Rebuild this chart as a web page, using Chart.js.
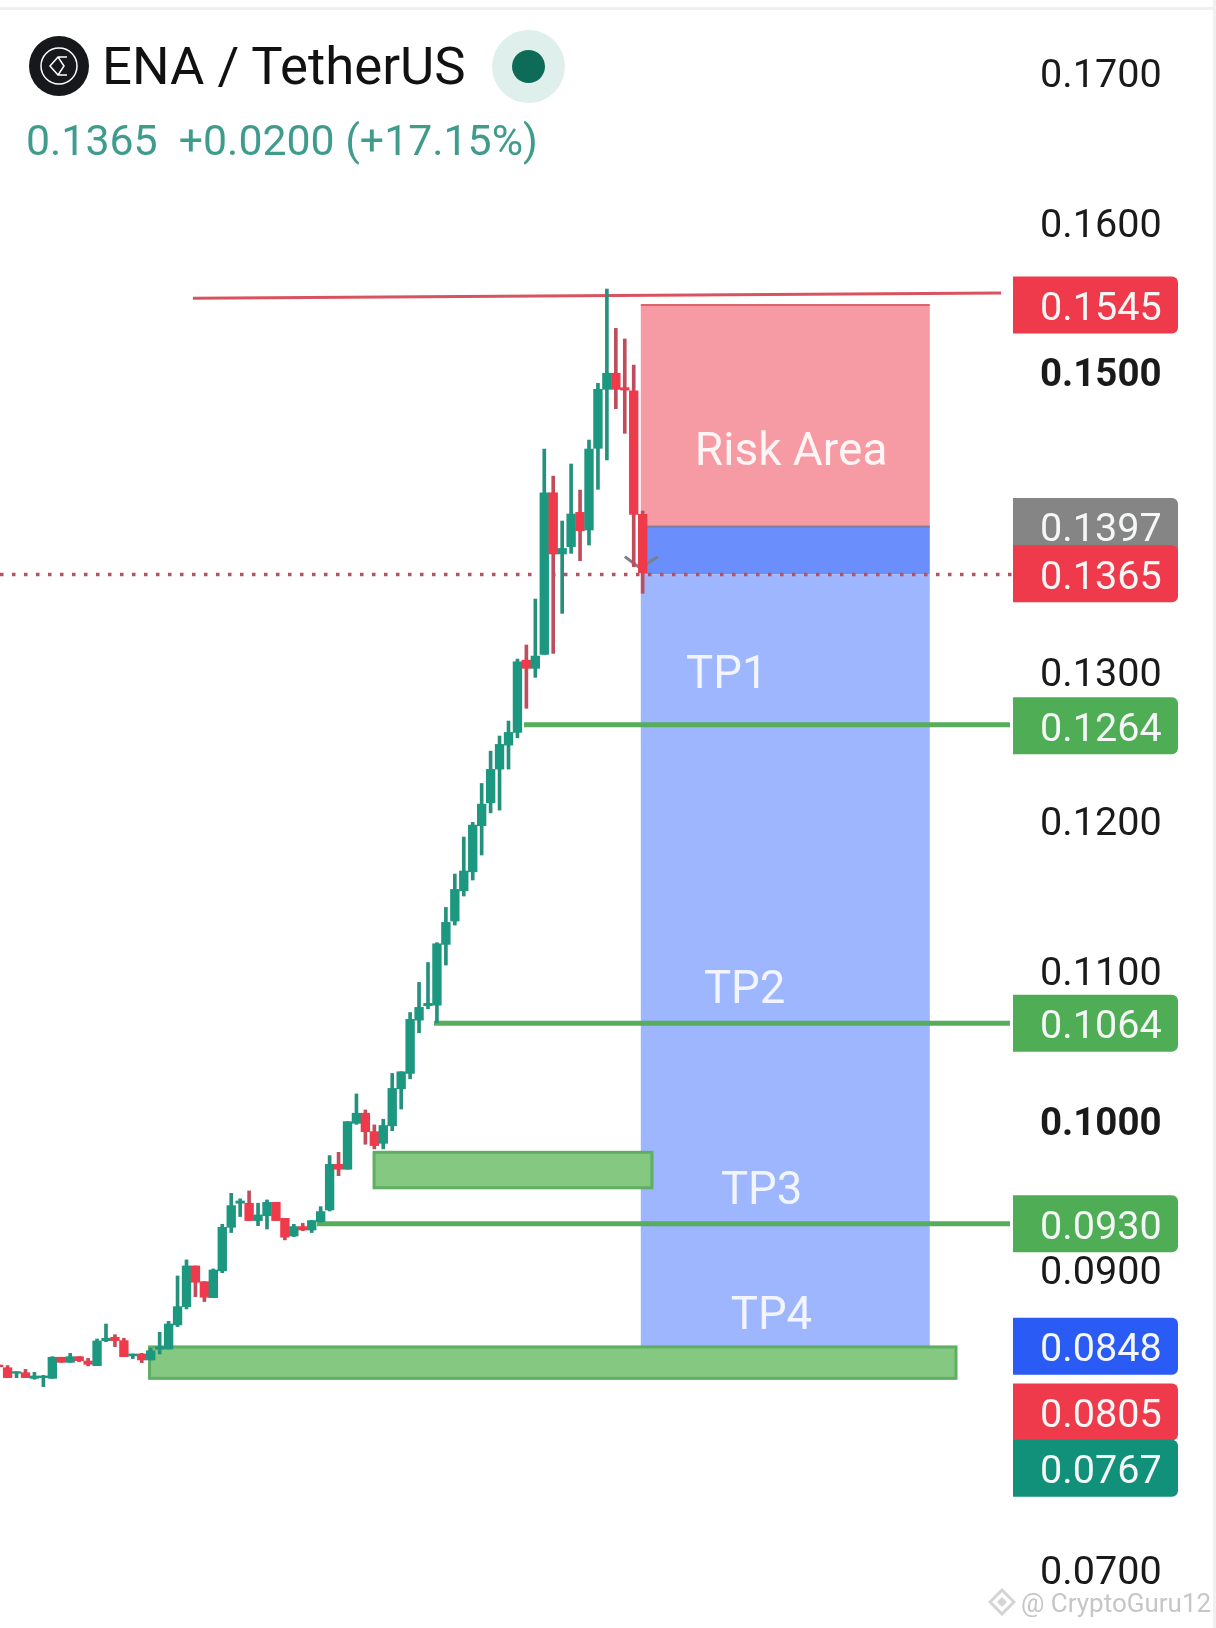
<!DOCTYPE html>
<html>
<head>
<meta charset="utf-8">
<title>ENA / TetherUS</title>
<script src="https://cdn.jsdelivr.net/npm/chart.js@4/dist/chart.umd.min.js"></script>
<style>
  html, body { margin: 0; padding: 0; background: #fff; }
  #wrap { position: relative; width: 1216px; height: 1628px; overflow: hidden; font-family: Roboto, sans-serif; }
  #wrap canvas { position: absolute; left: 0; top: 0; }
  .topline { position: absolute; left: 0; top: 7px; width: 1216px; height: 3px; background: #f0f0f0; }
  .rightline { position: absolute; left: 1213px; top: 0; width: 3px; height: 1628px; background: #f0f0f0; }
  .logo { position: absolute; left: 29px; top: 36px; width: 60px; height: 60px; }
  .name { position: absolute; left: 102px; top: 35px; font-size: 52.7px; line-height: 62px; color: #111; white-space: nowrap; }
  .halo { position: absolute; left: 492px; top: 30px; width: 73px; height: 73px; border-radius: 50%; background: #dff0ec; }
  .dot { position: absolute; left: 512px; top: 50px; width: 33px; height: 33px; border-radius: 50%; background: #0e6b58; }
  .quote { position: absolute; left: 26px; top: 115px; font-size: 42.8px; line-height: 50px; color: #3f9c8c; white-space: pre; }
  .mark { position: absolute; left: 988px; top: 1588px; width: 28px; height: 28px; }
  .credit { position: absolute; left: 1021px; top: 1585px; font-size: 26px; line-height: 36px; color: #c6c6c6; white-space: nowrap; }
</style>
</head>
<body>
<div id="wrap">
  <canvas id="chart" width="1216" height="1628"></canvas>
  <div class="topline"></div>
  <div class="rightline"></div>
  <svg class="logo" viewBox="0 0 60 60">
    <circle cx="30" cy="30" r="30" fill="#16181c"/>
    <circle cx="30" cy="30" r="18" fill="none" stroke="#fff" stroke-width="1.5"/>
    <path d="M38 21H29L21 30L29 39H38M29 21L35 30L29 39" fill="none" stroke="#fff" stroke-width="1.5"/>
  </svg>
  <div class="name">ENA / TetherUS</div>
  <div class="halo"></div>
  <div class="dot"></div>
  <div class="quote">0.1365  +0.0200 (+17.15%)</div>
  <svg class="mark" viewBox="0 0 28 28">
    <path d="M14 2L26 14L14 26L2 14Z" fill="none" stroke="#d4d4d4" stroke-width="3"/>
    <path d="M14 9L19 14L14 19L9 14Z" fill="#d4d4d4"/>
  </svg>
  <div class="credit">@ CryptoGuru12</div>
</div>
<script>
// candles, oldest first
const opens = [
  0.08369, 0.08351, 0.08314, 0.08318, 0.08280, 0.08285, 0.08280, 0.08421, 0.08387, 0.08425,
  0.08396, 0.08365, 0.08532, 0.08554, 0.08532, 0.08430, 0.08443, 0.08403, 0.08474, 0.08476,
  0.08637, 0.08759, 0.09031, 0.08926, 0.08819, 0.08998, 0.09289, 0.09450, 0.09450, 0.09334,
  0.09367, 0.09456, 0.09349, 0.09231, 0.09294, 0.09271, 0.09327, 0.09405, 0.09710, 0.09677,
  0.09984, 0.10051, 0.09928, 0.09850, 0.09967, 0.10214, 0.10317, 0.10673, 0.10769, 0.10773,
  0.11179, 0.11335, 0.11537, 0.11664, 0.11972, 0.12125, 0.12350, 0.12510, 0.12595, 0.13078,
  0.13023, 0.13116, 0.14196, 0.13787, 0.13836, 0.14065, 0.13947, 0.14493, 0.14887, 0.14994,
  0.14898, 0.14876, 0.14052
];
const highs = [
  0.08369, 0.08365, 0.08325, 0.08340, 0.08320, 0.08300, 0.08425, 0.08421, 0.08447, 0.08425,
  0.08414, 0.08543, 0.08643, 0.08572, 0.08548, 0.08443, 0.08447, 0.08481, 0.08588, 0.08661,
  0.08964, 0.09071, 0.09031, 0.08926, 0.09011, 0.09309, 0.09516, 0.09479, 0.09532, 0.09450,
  0.09472, 0.09456, 0.09349, 0.09309, 0.09316, 0.09334, 0.09427, 0.09768, 0.09790, 0.09995,
  0.10180, 0.10073, 0.09973, 0.10011, 0.10317, 0.10328, 0.10724, 0.10925, 0.11058, 0.11190,
  0.11426, 0.11649, 0.11896, 0.11994, 0.12254, 0.12470, 0.12571, 0.12671, 0.13085, 0.13179,
  0.13486, 0.14488, 0.14308, 0.14007, 0.14388, 0.14214, 0.14548, 0.14927, 0.15557, 0.15294,
  0.15223, 0.15049, 0.14074
];
const lows = [
  0.08358, 0.08285, 0.08285, 0.08285, 0.08274, 0.08225, 0.08280, 0.08387, 0.08387, 0.08391,
  0.08363, 0.08365, 0.08525, 0.08492, 0.08425, 0.08412, 0.08385, 0.08403, 0.08443, 0.08476,
  0.08626, 0.08744, 0.08826, 0.08793, 0.08819, 0.08986, 0.09254, 0.09361, 0.09334, 0.09300,
  0.09278, 0.09334, 0.09205, 0.09227, 0.09267, 0.09254, 0.09323, 0.09398, 0.09634, 0.09677,
  0.09977, 0.09844, 0.09813, 0.09813, 0.09934, 0.10079, 0.10281, 0.10589, 0.10749, 0.10655,
  0.11041, 0.11308, 0.11502, 0.11609, 0.11776, 0.12058, 0.12076, 0.12350, 0.12559, 0.12756,
  0.12963, 0.13116, 0.13123, 0.13390, 0.13791, 0.13742, 0.13847, 0.14219, 0.14415, 0.14758,
  0.14593, 0.13702, 0.13524
];
const closes = [
  0.08358, 0.08285, 0.08325, 0.08285, 0.08296, 0.08296, 0.08421, 0.08387, 0.08425, 0.08398,
  0.08374, 0.08530, 0.08548, 0.08532, 0.08425, 0.08443, 0.08403, 0.08465, 0.08492, 0.08643,
  0.08759, 0.09031, 0.08922, 0.08822, 0.09004, 0.09289, 0.09434, 0.09465, 0.09334, 0.09372,
  0.09456, 0.09334, 0.09223, 0.09294, 0.09271, 0.09334, 0.09394, 0.09710, 0.09677, 0.09995,
  0.10051, 0.09928, 0.09835, 0.09969, 0.10217, 0.10328, 0.10678, 0.10758, 0.10785, 0.11183,
  0.11326, 0.11546, 0.11669, 0.11976, 0.12116, 0.12348, 0.12515, 0.12595, 0.13067, 0.13023,
  0.13105, 0.14196, 0.13787, 0.13824, 0.14054, 0.13942, 0.14488, 0.14887, 0.14994, 0.14887,
  0.14882, 0.14052, 0.13662
];

const tickValues = [0.07, 0.08, 0.09, 0.10, 0.11, 0.12, 0.13, 0.14, 0.15, 0.16, 0.17];
const boldTicks = [0.10, 0.15];
// tagLabels is what the tag says, tagLevels is where it sits on the picture
const tagLabels = ['0.1545', '0.1397', '0.1365', '0.1264', '0.1064', '0.0930', '0.0848', '0.0805', '0.0767'];
const tagLevels = [0.1545, 0.1397, 0.13655, 0.1264, 0.10653, 0.09313, 0.08494, 0.08055, 0.0768];
const tagColors = ['#ee3a4a', '#858585', '#ee3a4a', '#4fae55', '#4fae55', '#4fae55', '#2a5cf5', '#ee3a4a', '#12917a'];

const riskTop = 0.1545;
const entryTop = 0.1397;
const lastPrice = 0.1365;
const targetBottom = 0.0848;
const tpNames = ['TP1', 'TP2', 'TP3', 'TP4'];
const tpLabelPrices = [0.12965, 0.10862, 0.09524, 0.08683];
const tpLabelBars = [81.4, 83.4, 85.3, 86.4];

const FONT = 'Roboto, sans-serif';
const GREEN = '#1c9780';
const RED = '#ee3a4a';
const indexes = opens.map((_, i) => i);
const isUp = (i) => closes[i] >= opens[i];

// shaded boxes go behind the candles, price tags go on top of the axis
const zonesPlugin = {
  id: 'zones',
  beforeDatasetsDraw(chart) {
    const { ctx, scales: { x, y } } = chart;
    const box = (x0, x1, p0, p1, fill, stroke, lw) => {
      const l = x.getPixelForValue(x0);
      const r = x.getPixelForValue(x1);
      const t = y.getPixelForValue(p0);
      const b = y.getPixelForValue(p1);
      ctx.fillStyle = fill;
      ctx.fillRect(l, t, r - l, b - t);
      if (stroke) {
        ctx.strokeStyle = stroke;
        ctx.lineWidth = lw;
        ctx.strokeRect(l, t, r - l, b - t);
      }
    };
    ctx.save();
    box(71.79, 104.1, riskTop, entryTop, '#f69aa4');
    box(71.79, 104.1, entryTop, lastPrice, '#6a8efb');
    box(71.79, 104.1, lastPrice, targetBottom, '#9db6fd');
    ctx.fillStyle = '#e0616d';
    ctx.fillRect(x.getPixelForValue(71.79), y.getPixelForValue(riskTop) - 1, x.getPixelForValue(104.1) - x.getPixelForValue(71.79), 2);
    ctx.fillStyle = '#7a7f9c';
    ctx.fillRect(x.getPixelForValue(71.79), y.getPixelForValue(entryTop) - 1, x.getPixelForValue(104.1) - x.getPixelForValue(71.79), 2);
    box(41.97, 73.04, 0.0979, 0.09553, '#84c882', '#5fae62', 3);
    box(16.87, 107.03, 0.0849, 0.0828, '#84c882', '#5fae62', 3);

    ctx.textAlign = 'center';
    ctx.textBaseline = 'middle';
    ctx.font = '46px ' + FONT;
    ctx.fillStyle = '#fff5f5';
    ctx.fillText('Risk Area', x.getPixelForValue(88.6), y.getPixelForValue(0.1446));
    ctx.font = '45.5px ' + FONT;
    ctx.fillStyle = '#f2f5ff';
    tpNames.forEach((name, i) => {
      ctx.fillText(name, x.getPixelForValue(tpLabelBars[i]), y.getPixelForValue(tpLabelPrices[i]));
    });
    ctx.restore();
  },
  afterDraw(chart) {
    const { ctx, scales: { y } } = chart;
    ctx.save();
    ctx.font = '39.6px ' + FONT;
    ctx.textAlign = 'left';
    ctx.textBaseline = 'middle';
    tagLevels.forEach((v, i) => {
      const py = y.getPixelForValue(v);
      ctx.fillStyle = tagColors[i];
      ctx.beginPath();
      ctx.roundRect(1013, py - 28.5, 165, 57, [0, 6, 6, 0]);
      ctx.fill();
      ctx.fillStyle = '#f4f7f6';
      ctx.fillText(tagLabels[i], 1040, py + 5);
    });
    ctx.restore();
  }
};

const flatLine = (x0, x1, price, color, width) => ({
  type: 'line',
  data: [{ x: x0, y: price }, { x: x1, y: price }],
  borderColor: color,
  borderWidth: width,
  pointRadius: 0,
  clip: false,
  order: 3
});

new Chart(document.getElementById('chart').getContext('2d'), {
  type: 'bar',
  data: {
    datasets: [
      {
        label: 'body',
        data: indexes.map((i) => ({ x: i, y: [opens[i], closes[i]] })),
        backgroundColor: indexes.map((i) => (isUp(i) ? GREEN : RED)),
        barThickness: 8.7,
        grouped: false,
        order: 1
      },
      {
        label: 'wick',
        data: indexes.map((i) => ({ x: i, y: [lows[i], highs[i]] })),
        backgroundColor: indexes.map((i) => (isUp(i) ? '#25907c' : '#bf4d5c')),
        barThickness: 3,
        grouped: false,
        order: 2
      },
      flatLine(58.73, 113.07, 0.12647, '#58ad5c', 5),
      flatLine(48.67, 113.07, 0.10653, '#58ad5c', 5),
      flatLine(35.59, 113.07, 0.09313, '#58ad5c', 5),
      {
        type: 'line',
        data: [{ x: 21.73, y: 0.15495 }, { x: 112.07, y: 0.1553 }],
        borderColor: '#d9525f',
        borderWidth: 3,
        pointRadius: 0,
        clip: false,
        order: 3
      },
      {
        type: 'line',
        data: [{ x: 0.15, y: lastPrice }, { x: 113.4, y: lastPrice }],
        borderColor: '#b5525f',
        borderWidth: 3.5,
        borderDash: [3.5, 8.5],
        pointRadius: 0,
        clip: false,
        order: 3
      },
      {
        type: 'line',
        data: [{ x: 70, y: 0.13769 }, { x: 71.7, y: 0.13693 }, { x: 73.7, y: 0.13769 }],
        borderColor: '#7c7f8c',
        borderWidth: 3,
        pointRadius: 0,
        order: 4
      }
    ]
  },
  options: {
    responsive: false,
    animation: false,
    devicePixelRatio: 1,
    layout: { padding: 0 },
    plugins: { legend: { display: false }, tooltip: { enabled: false } },
    scales: {
      x: {
        type: 'linear',
        display: false,
        min: 0.15,
        max: 111.95,
        offset: false
      },
      y: {
        position: 'right',
        min: 0.066124,
        max: 0.174876,
        border: { display: false },
        grid: { display: false, drawTicks: false },
        afterBuildTicks(axis) {
          axis.ticks = tickValues.map((value) => ({ value }));
        },
        afterFit(axis) {
          axis.width = 216;
          axis.paddingTop = 0;
          axis.paddingBottom = 0;
        },
        ticks: {
          autoSkip: false,
          padding: 40,
          labelOffset: 4,
          color: '#1a1a1a',
          callback: (v) => v.toFixed(4),
          font: (c) => {
            const bold = c.tick && boldTicks.includes(c.tick.value);
            return { family: FONT, size: bold ? 38.5 : 39.6, weight: bold ? '700' : '400' };
          }
        }
      }
    }
  },
  plugins: [zonesPlugin]
});
</script>
</body>
</html>
